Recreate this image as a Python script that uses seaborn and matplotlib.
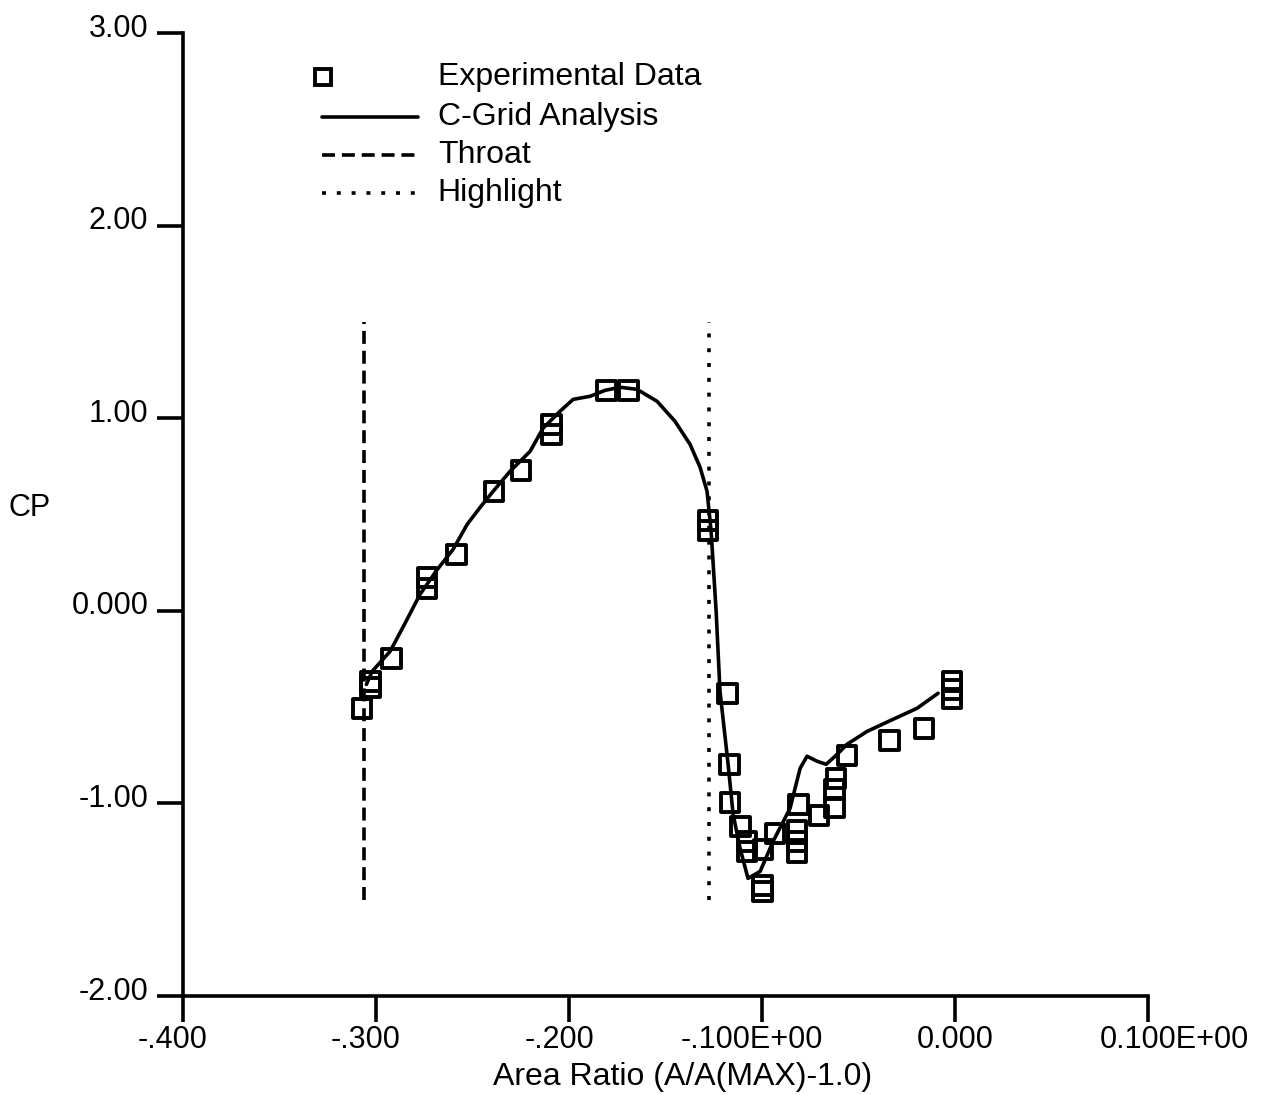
import numpy as np
import pandas as pd
import matplotlib
matplotlib.use("Agg")
import matplotlib.pyplot as plt
import matplotlib.transforms as mtrans
import seaborn as sns

# experimental Cp readings (area ratio, Cp)
exp_x = [-0.3073, -0.3031, -0.3031, -0.2922, -0.2736, -0.2736, -0.2585, -0.2389,
         -0.2249, -0.2093, -0.2093, -0.1808, -0.1694, -0.1280, -0.1280, -0.1181,
         -0.1171, -0.1166, -0.1114, -0.1078, -0.1078, -0.1000, -0.1000, -0.0995,
         -0.0933, -0.0813, -0.0819, -0.0819, -0.0819, -0.0705, -0.0627, -0.0627,
         -0.0617, -0.0560, -0.0342, -0.0161, -0.0016, -0.0016, -0.0016]
exp_cp = [-0.506, -0.397, -0.366, -0.247, 0.174, 0.117, 0.293, 0.620,
          0.730, 0.969, 0.917, 1.145, 1.145, 0.470, 0.418, -0.428,
          -0.797, -0.994, -1.119, -1.197, -1.249, -1.425, -1.456, -1.238,
          -1.155, -1.005, -1.140, -1.197, -1.254, -1.062, -1.020, -0.927,
          -0.870, -0.750, -0.672, -0.610, -0.366, -0.408, -0.454]

# C-grid analysis curve
cg_x = [-0.305, -0.302, -0.2927, -0.285, -0.2772, -0.2684, -0.2601, -0.2528,
        -0.2461, -0.2394, -0.2306, -0.2202, -0.2135, -0.2047, -0.1979, -0.1891,
        -0.1813, -0.1736, -0.1648, -0.1544, -0.1451, -0.1373, -0.1321, -0.1285,
        -0.1264, -0.1238, -0.1218, -0.1176, -0.1150, -0.1114, -0.1073, -0.1010,
        -0.0943, -0.0855, -0.0803, -0.0767, -0.0715, -0.0668, -0.0611, -0.0560,
        -0.0456, -0.0321, -0.0197, -0.0088]
cg_cp = [-0.382, -0.314, -0.210, -0.065, 0.086, 0.213, 0.319, 0.449,
         0.537, 0.620, 0.724, 0.828, 0.948, 1.036, 1.098, 1.114,
         1.145, 1.161, 1.150, 1.088, 0.984, 0.864, 0.745, 0.620,
         0.413, -0.003, -0.418, -0.797, -1.057, -1.233, -1.389, -1.353,
         -1.197, -1.025, -0.818, -0.755, -0.781, -0.797, -0.745, -0.693,
         -0.626, -0.563, -0.506, -0.428]

throat_x = -0.306
highlight_x = -0.1275
ref_cp = [-1.5, 1.5]

xticks = [-0.4, -0.3, -0.2, -0.1, 0.0, 0.1]
xtick_labels = ['-.400', '-.300', '-.200', '-.100E+00', '0.000', '0.100E+00']
yticks = [-2, -1, 0, 1, 2, 3]
ytick_labels = ['-2.00', '-1.00', '0.000', '1.00', '2.00', '3.00']

legend_labels = ['Experimental Data', 'C-Grid Analysis', 'Throat', 'Highlight']

sns.set_style('ticks', {'text.color': 'black', 'axes.labelcolor': 'black',
                        'xtick.color': 'black', 'ytick.color': 'black',
                        'axes.edgecolor': 'black'})
plt.rcParams['font.family'] = ['Liberation Sans', 'DejaVu Sans']

fig = plt.figure(figsize=(12.72, 10.95), dpi=100)
ax = fig.add_axes([0.1439, 0.0904, 0.7587, 0.8794])

lw = 2.6
exp_df = pd.DataFrame({'x': exp_x, 'cp': exp_cp})
cg_df = pd.DataFrame({'x': cg_x, 'cp': cg_cp})

sns.lineplot(data=cg_df, x='x', y='cp', sort=False, color='black', lw=lw, ax=ax)
ax.plot([throat_x, throat_x], ref_cp, color='black', lw=lw, dashes=(3.6, 1.9))
ax.plot([highlight_x, highlight_x], ref_cp, color='black', lw=lw, dashes=(1.1, 3.0))
sns.scatterplot(data=exp_df, x='x', y='cp', marker='s', s=185, facecolor='none',
                edgecolor='black', linewidth=2.8, ax=ax, zorder=3)

ax.set_xlim(-0.4, 0.1)
ax.set_ylim(-2, 3)
ax.set_xticks(xticks)
ax.set_xticklabels(xtick_labels)
ax.set_yticks(yticks)
ax.set_yticklabels(ytick_labels)
sns.despine(ax=ax)
for s in ['left', 'bottom']:
    ax.spines[s].set_linewidth(lw)
ax.tick_params(direction='out', length=19, width=lw, labelsize=22, colors='black', pad=2)
ax.tick_params(axis='y', pad=6)

up = mtrans.ScaledTranslation(0, 0.08, fig.dpi_scale_trans)
for lab in ax.get_yticklabels():
    lab.set_transform(lab.get_transform() + up)
left = mtrans.ScaledTranslation(-0.1, 0, fig.dpi_scale_trans)
for lab in ax.get_xticklabels()[:4]:
    lab.set_transform(lab.get_transform() + left)
right = mtrans.ScaledTranslation(0.26, 0, fig.dpi_scale_trans)
ax.get_xticklabels()[5].set_transform(ax.get_xticklabels()[5].get_transform() + right)

ax.set_xlabel('Area Ratio (A/A(MAX)-1.0)', fontsize=23)
ax.xaxis.set_label_coords(0.518, -0.084)
ax.xaxis.label.set_va('center')
ax.set_ylabel('CP', fontsize=22, rotation=0, ha='center', va='center')
ax.yaxis.set_label_coords(-0.159, 0.507)

# legend drawn by hand so the square sits at the left of the key
lx0, lx1, tx = 0.144, 0.2435, 0.264
ly = [0.954, 0.913, 0.873, 0.834]
ax.plot([lx0 + 0.001], [ly[0]], transform=ax.transAxes, marker='s', ms=11,
        mfc='none', mec='black', mew=2.8, clip_on=False)
ax.plot([lx0, lx1], [ly[1]] * 2, transform=ax.transAxes, color='black', lw=lw)
ax.plot([lx0, lx1], [ly[2]] * 2, transform=ax.transAxes, color='black', lw=lw, dashes=(3.6, 1.9))
ax.plot([lx0, lx1], [ly[3]] * 2, transform=ax.transAxes, color='black', lw=lw, dashes=(1.1, 3.0))
for lab, y in zip(legend_labels, ly):
    ax.text(tx, y, lab, transform=ax.transAxes, fontsize=23, ha='left', va='center')

fig.savefig('out.png', dpi=100)
